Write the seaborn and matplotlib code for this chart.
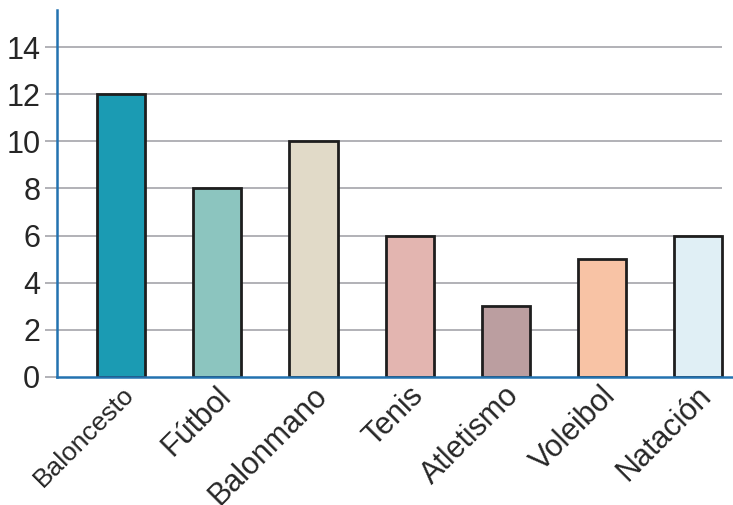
import matplotlib
matplotlib.use("Agg")
import matplotlib.pyplot as plt
import matplotlib.transforms as mtransforms
import seaborn as sns
import pandas as pd

categories = ["Baloncesto", "Fútbol", "Balonmano", "Tenis", "Atletismo", "Voleibol", "Natación"]
values = [12, 8, 10, 6, 3, 5, 6]
colors = ["#1b9bb3", "#8cc5bf", "#e1dac8", "#e3b5b0", "#bb9ea0", "#f8c3a5", "#e0eff5"]
yticks = [0, 2, 4, 6, 8, 10, 12, 14]

sns.set_style("white")
plt.rcParams['font.family'] = ['Liberation Sans', 'DejaVu Sans']

df = pd.DataFrame({"deporte": categories, "valor": values})

fig = plt.figure(figsize=(7.33, 5.05), dpi=100)
ax = fig.add_axes([57/733, 128/505, 1 - 57/733, (377-10)/505])

sns.barplot(data=df, x="deporte", y="valor", hue="deporte", palette=colors,
            saturation=1, legend=False, width=0.5, edgecolor="#1e1e1e",
            linewidth=2, ax=ax, zorder=3)

ax.set_xlim(-0.665, 6.36)
ax.set_ylim(0, 15.57)

for y in yticks[1:]:
    ax.hlines(y, -0.665, 6.25, color="#ababb1", linewidth=1.3, zorder=1)

ax.set_yticks(yticks)
ax.set_yticklabels([str(v) for v in yticks], fontsize=22)
ax.tick_params(axis="y", length=9, width=1.3, color="#ababb1", pad=3, direction="out", left=True)
ax.tick_params(axis="x", length=0, pad=8)

for spine in ["top", "right"]:
    ax.spines[spine].set_visible(False)
for spine in ["left", "bottom"]:
    ax.spines[spine].set_color("#2372b0")
    ax.spines[spine].set_linewidth(1.8)
    ax.spines[spine].set_zorder(4)

ax.set_xticks(range(len(categories)))
ax.set_xticklabels(categories)
offset = mtransforms.ScaledTranslation(9/100, -3/100, fig.dpi_scale_trans)
for i, lab in enumerate(ax.get_xticklabels()):
    lab.set_rotation(45)
    lab.set_ha("right")
    lab.set_va("center")
    lab.set_rotation_mode("anchor")
    lab.set_fontsize(19 if i == 0 else 22)
    lab.set_transform(lab.get_transform() + offset)

ax.set_xlabel("")
ax.set_ylabel("")

fig.savefig("out.png", dpi=100)
